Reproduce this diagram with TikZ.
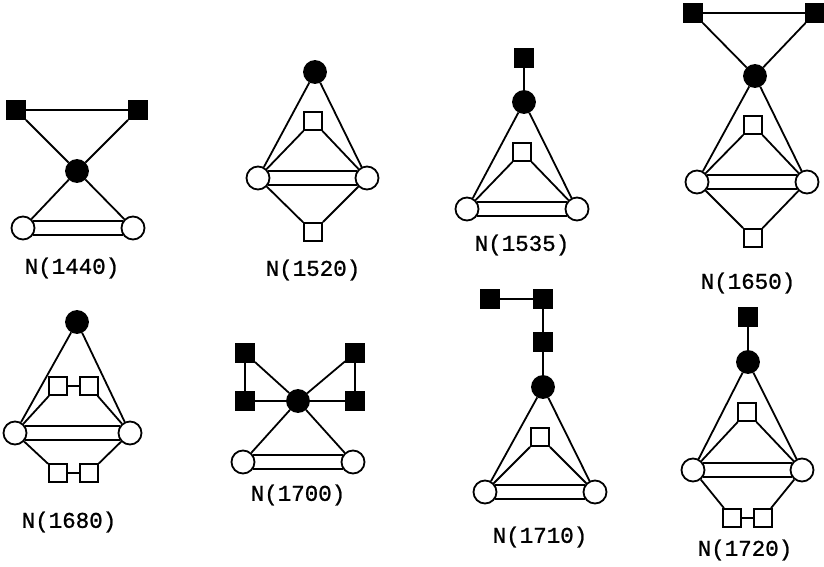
\documentclass[tikz,border=0pt]{standalone}
\usepackage{fontspec}
\newfontfamily\lblfont[FakeBold=1]{Liberation Mono}
\begin{document}
\begin{tikzpicture}[x=1pt,y=-1pt,line width=1.8pt,
  bc/.style={circle,fill=black,draw=black,minimum size=22pt,inner sep=0pt},
  wc/.style={circle,fill=white,draw=black,minimum size=23pt,inner sep=0pt},
  bs/.style={rectangle,fill=black,draw=black,minimum size=18pt,inner sep=0pt},
  ws/.style={rectangle,fill=white,draw=black,minimum size=18pt,inner sep=0pt},
  lbl/.style={font=\lblfont\fontsize{22.5}{27}\selectfont,inner sep=0pt}]
\useasboundingbox (0,0) rectangle (824,567);
% double bond between two white circles
\newcommand{\dbl}[2]{\draw (#1.36) -- (#2.144); \draw (#1.-36) -- (#2.-144);}

% ---- N(1440)
\node[bs] (a1) at (16,110) {};
\node[bs] (a2) at (138,110) {};
\node[bc] (a3) at (77,171) {};
\node[wc] (a4) at (23,228) {};
\node[wc] (a5) at (133,228) {};
\node[lbl] (al) at (72,268) {N(1440)};
\draw (a1) -- (a2) (a1) -- (a3) (a2) -- (a3) (a3) -- (a4) (a3) -- (a5);
\dbl{a4}{a5}

% ---- N(1520)
\node[bc] (b1) at (315,72) {};
\node[ws] (b2) at (313,121) {};
\node[wc] (b3) at (258,178) {};
\node[wc] (b4) at (367,178) {};
\node[ws] (b5) at (313,232) {};
\node[lbl] (bl) at (313,270) {N(1520)};
\draw (b1) -- (b3) (b1) -- (b4) (b2) -- (b3) (b2) -- (b4) (b5) -- (b3) (b5) -- (b4);
\dbl{b3}{b4}

% ---- N(1535)
\node[bs] (c1) at (524,58) {};
\node[bc] (c2) at (524,102) {};
\node[ws] (c3) at (522,152) {};
\node[wc] (c4) at (467,209) {};
\node[wc] (c5) at (577,209) {};
\node[lbl] (cl) at (522,245) {N(1535)};
\draw (c1) -- (c2) (c2) -- (c4) (c2) -- (c5) (c3) -- (c4) (c3) -- (c5);
\dbl{c4}{c5}

% ---- N(1650)
\node[bs] (d1) at (693,13) {};
\node[bs] (d2) at (815,13) {};
\node[bc] (d3) at (755,76) {};
\node[ws] (d4) at (753,125) {};
\node[wc] (d5) at (697,182) {};
\node[wc] (d6) at (807,182) {};
\node[ws] (d7) at (753,238) {};
\node[lbl] (dl) at (748,283) {N(1650)};
\draw (d1) -- (d2) (d1) -- (d3) (d2) -- (d3) (d3) -- (d5) (d3) -- (d6)
      (d4) -- (d5) (d4) -- (d6) (d7) -- (d5) (d7) -- (d6);
\dbl{d5}{d6}

% ---- N(1680)
\node[bc] (e1) at (77,322) {};
\node[ws] (e2) at (58,386) {};
\node[ws] (e3) at (89,386) {};
\node[wc] (e4) at (15,433) {};
\node[wc] (e5) at (130,433) {};
\node[ws] (e6) at (58,473) {};
\node[ws] (e7) at (89,473) {};
\node[lbl] (el) at (69,522) {N(1680)};
\draw (e1) -- (e4) (e1) -- (e5) (e4) -- (e2) (e2) -- (e3) (e3) -- (e5)
      (e4) -- (e6) (e6) -- (e7) (e7) -- (e5);
\dbl{e4}{e5}

% ---- N(1700)
\node[bs] (f1) at (245,353) {};
\node[bs] (f2) at (245,401) {};
\node[bs] (f3) at (355,353) {};
\node[bs] (f4) at (355,401) {};
\node[bc] (f5) at (298,401) {};
\node[wc] (f6) at (243,462) {};
\node[wc] (f7) at (353,462) {};
\node[lbl] (fl) at (298,495) {N(1700)};
\draw (f1) -- (f2) (f3) -- (f4) (f2) -- (f5) (f5) -- (f4) (f1) -- (f5) (f3) -- (f5)
      (f5) -- (f6) (f5) -- (f7);
\dbl{f6}{f7}

% ---- N(1710)
\node[bs] (g1) at (490,299) {};
\node[bs] (g2) at (543,299) {};
\node[bs] (g3) at (543,342) {};
\node[bc] (g4) at (543,387) {};
\node[ws] (g5) at (540,437) {};
\node[wc] (g6) at (485,492) {};
\node[wc] (g7) at (595,492) {};
\node[lbl] (gl) at (540,537) {N(1710)};
\draw (g1) -- (g2) (g2) -- (g3) (g3) -- (g4) (g4) -- (g6) (g4) -- (g7)
      (g5) -- (g6) (g5) -- (g7);
\dbl{g6}{g7}

% ---- N(1720)
\node[bs] (h1) at (748,317) {};
\node[bc] (h2) at (748,362) {};
\node[ws] (h3) at (747,412) {};
\node[wc] (h4) at (693,470) {};
\node[wc] (h5) at (802,470) {};
\node[ws] (h6) at (732,518) {};
\node[ws] (h7) at (763,518) {};
\node[lbl] (hl) at (745,550) {N(1720)};
\draw (h1) -- (h2) (h2) -- (h4) (h2) -- (h5) (h3) -- (h4) (h3) -- (h5)
      (h4) -- (h6) (h6) -- (h7) (h7) -- (h5);
\dbl{h4}{h5}
\end{tikzpicture}
\end{document}
